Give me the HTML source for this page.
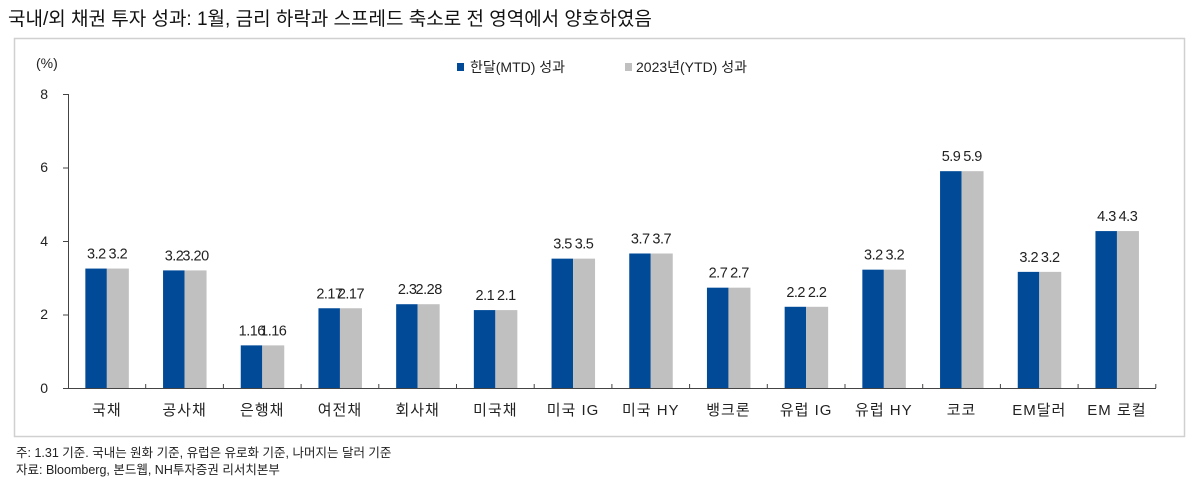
<!DOCTYPE html>
<html><head><meta charset="utf-8"><style>
html,body{margin:0;padding:0;background:#fff;}
body{width:1199px;height:484px;overflow:hidden;font-family:"Liberation Sans","Noto Sans CJK KR",sans-serif;}
</style></head><body>
<svg width="1199" height="484" xmlns="http://www.w3.org/2000/svg" font-family="Liberation Sans, Noto Sans CJK KR, sans-serif">
<text x="8" y="25" font-size="19" fill="#111">국내/외 채권 투자 성과: 1월, 금리 하락과 스프레드 축소로 전 영역에서 양호하였음</text>
<rect x="14.5" y="38.5" width="1170" height="398" fill="none" stroke="#d0d0d0" stroke-width="1.5"/>
<text x="36" y="68" font-size="14" fill="#222">(%)</text>
<rect x="457" y="63" width="7" height="8" fill="#004a98"/>
<text x="470" y="72" font-size="14" fill="#222">한달(MTD) 성과</text>
<rect x="625" y="63" width="7" height="8" fill="#c0c0c0"/>
<text x="636" y="72" font-size="14" fill="#222">2023년(YTD) 성과</text>
<g font-size="14" fill="#222" text-anchor="end">
<text x="48" y="99">8</text><text x="48" y="172">6</text><text x="48" y="246">4</text><text x="48" y="319">2</text><text x="48" y="393">0</text>
</g>
<g stroke="#444" stroke-width="1">
<line x1="68.5" y1="94" x2="68.5" y2="388"/>
<line x1="68" y1="388.5" x2="1156" y2="388.5"/>
<line x1="63" y1="94.5" x2="68" y2="94.5"/><line x1="63" y1="168" x2="68" y2="168"/><line x1="63" y1="241.5" x2="68" y2="241.5"/><line x1="63" y1="315" x2="68" y2="315"/><line x1="63" y1="388.5" x2="68" y2="388.5"/>
</g>
<g id="bars"></g>
</svg>
<script>
var cats=["국채","공사채","은행채","여전채","회사채","미국채","미국 IG","미국 HY","뱅크론","유럽 IG","유럽 HY","코코","EM달러","EM 로컬"];
var v=[3.25,3.2,1.16,2.17,2.28,2.12,3.52,3.66,2.73,2.21,3.22,5.9,3.16,4.27];
var la=[["3.2","3.2"],["3.2","3.20"],["1.16","1.16"],["2.17","2.17"],["2.3","2.28"],["2.1","2.1"],["3.5","3.5"],["3.7","3.7"],["2.7","2.7"],["2.2","2.2"],["3.2","3.2"],["5.9","5.9"],["3.2","3.2"],["4.3","4.3"]];
var s="",sp=77.7;
for(var i=0;i<14;i++){
 var c=68+sp*(i+0.5), t=388-36.75*v[i], h=388-t;
 s+='<rect x="'+(c-21.5)+'" y="'+t+'" width="21.5" height="'+h+'" fill="#004a98"/>';
 s+='<rect x="'+c+'" y="'+t+'" width="22" height="'+h+'" fill="#c0c0c0"/>';
 s+='<text x="'+(c-10.5)+'" y="'+(t-10)+'" font-size="14.5" text-anchor="middle" fill="#222" letter-spacing="-0.5">'+la[i][0]+'</text>';
 s+='<text x="'+(c+11)+'" y="'+(t-10)+'" font-size="14.5" text-anchor="middle" fill="#222" letter-spacing="-0.5">'+la[i][1]+'</text>';
 s+='<text x="'+c+'" y="415" font-size="15" text-anchor="middle" fill="#222" letter-spacing="1">'+cats[i]+'</text>';
 var bx=68+sp*(i+1);
 s+='<line x1="'+bx+'" y1="384" x2="'+bx+'" y2="388" stroke="#444"/>';
}
s+='<text x="16" y="457" font-size="12.5" fill="#222">주: 1.31 기준. 국내는 원화 기준, 유럽은 유로화 기준, 나머지는 달러 기준</text>';
s+='<text x="16" y="474" font-size="12.5" fill="#222">자료: Bloomberg, 본드웹, NH투자증권 리서치본부</text>';
document.getElementById("bars").innerHTML=s;
</script>
</body></html>
